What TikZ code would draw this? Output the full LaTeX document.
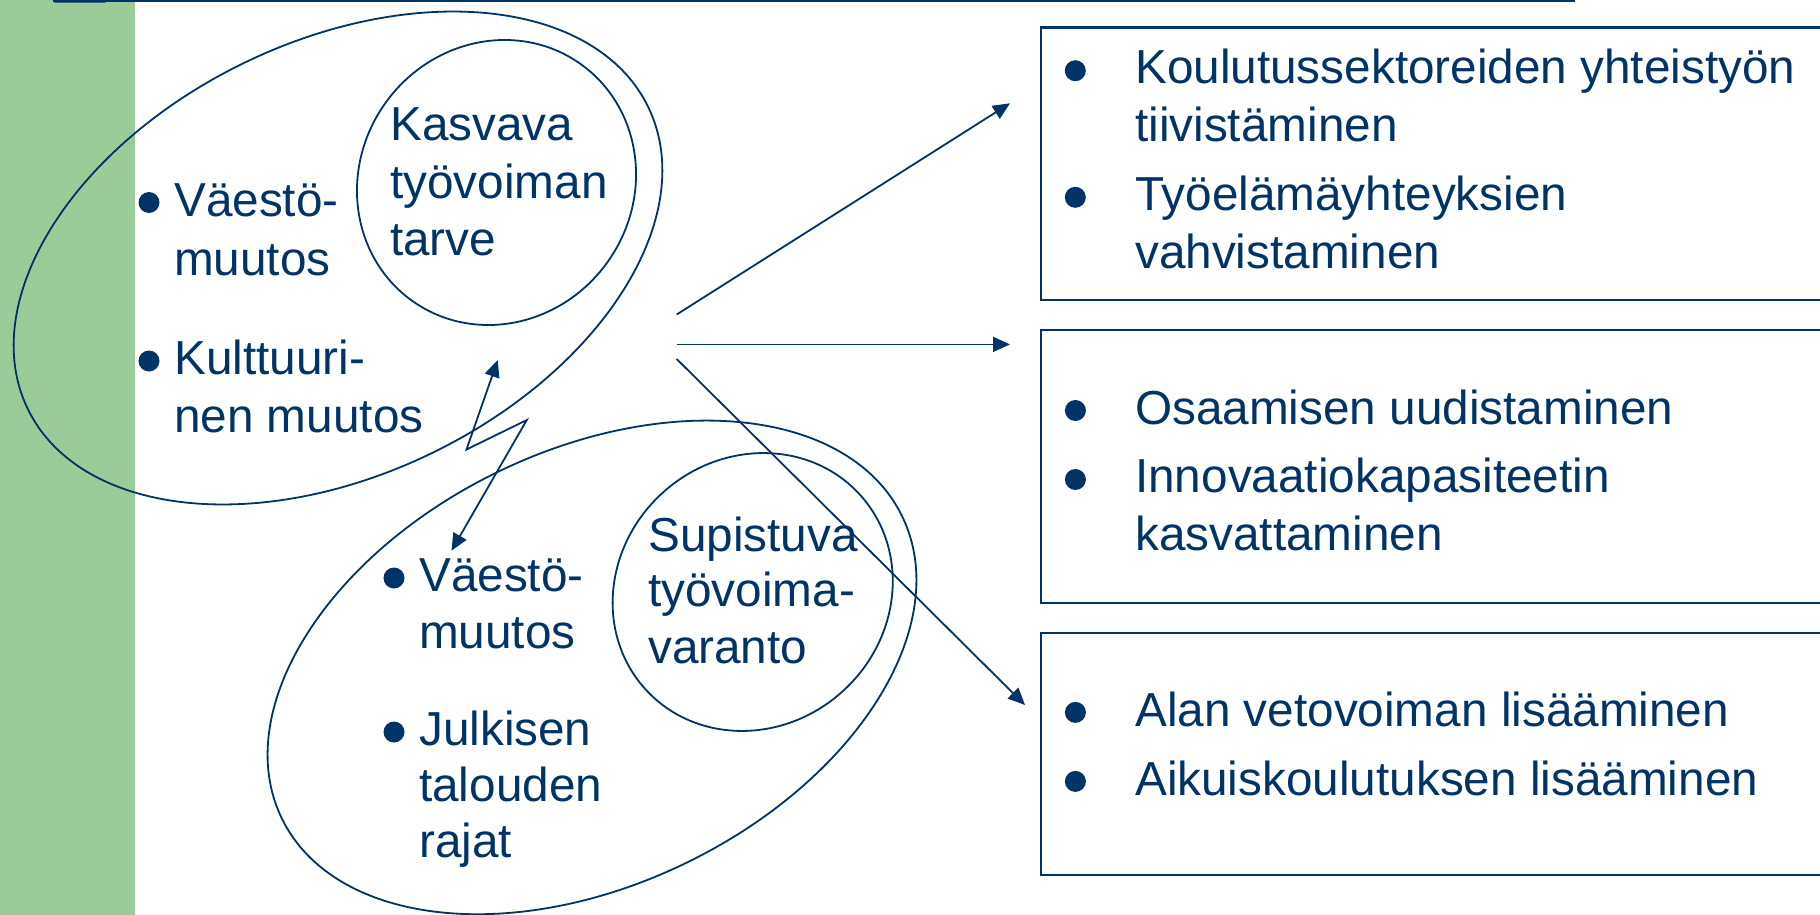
\documentclass[tikz,border=0pt]{standalone}
\usepackage{fontspec}
\setmainfont{Liberation Sans}
\usetikzlibrary{shapes.geometric,arrows.meta}
\definecolor{navy}{RGB}{0,51,102}
\definecolor{leaf}{RGB}{153,204,153}
\begin{document}
\begin{tikzpicture}[x=1pt,y=-1pt,
  txt/.style={anchor=base west, inner sep=0pt, text=navy, font=\fontsize{47.7}{57}\selectfont},
  bul/.style={circle, fill=navy, inner sep=0pt, minimum size=21pt},
  ring/.style={draw=navy, line width=1.8pt, ellipse, inner sep=0pt},
  panel/.style={draw=navy, line width=2.2pt, rectangle, anchor=north west, inner sep=0pt, minimum width=820pt},
  link/.style={draw=navy, line width=1.8pt},
  tip/.style={-{Triangle[length=17pt,width=15pt]}},
  tips/.style={{Triangle[length=17pt,width=15pt]}-{Triangle[length=17pt,width=15pt]}}
]
\clip (0,0) rectangle (1820,915);
\fill[white] (0,0) rectangle (1820,915);
\fill[leaf] (0,0) rectangle (135,915);
\draw[navy, line width=1.6pt] (53,0.8) -- (1575,0.8);
\fill[navy, rounded corners=2pt] (53,-4) rectangle (107,2.6);

% ellipses
\node[ring, minimum width=690pt, minimum height=433pt, rotate=26] (grow) at (338,258) {};
\node[ring, minimum width=690pt, minimum height=434pt, rotate=26] (shrink) at (592,667.4) {};
\node[ring, minimum width=290.6pt, minimum height=273.2pt, rotate=55] (need) at (496.5,182.5) {};
\node[ring, minimum width=289.6pt, minimum height=268pt, rotate=42] (supply) at (752.7,592) {};

% top-left texts
\node[bul] (b1) at (149,202.5) {};
\node[txt] (t1a) at (174,216.7) {Väestö-};
\node[txt] (t1b) at (174,275) {muutos};
\node[bul] (b2) at (149,361) {};
\node[txt] (t2a) at (174,374) {Kulttuuri-};
\node[txt] (t2b) at (174,432) {nen muutos};
\node[txt] (k1) at (390,140) {Kasvava};
\node[txt] (k2) at (390,198) {työvoiman};
\node[txt] (k3) at (390,255) {tarve};

% bottom texts
\node[bul] (b3) at (394,578) {};
\node[txt] (t3a) at (419,591.7) {Väestö-};
\node[txt] (t3b) at (419,648.3) {muutos};
\node[bul] (b4) at (394,732) {};
\node[txt] (t4a) at (419,745) {Julkisen};
\node[txt] (t4b) at (419,801.7) {talouden};
\node[txt] (t4c) at (419,857.3) {rajat};
\node[txt] (s1) at (648,551.7) {Supistuva};
\node[txt] (s2) at (648,606.7) {työvoima-};
\node[txt] (s3) at (648,663.3) {varanto};

% boxes
\node[panel, minimum height=272pt] (box1) at (1040,26.5) {};
\node[panel, minimum height=272.5pt] (box2) at (1040,329) {};
\node[panel, minimum height=241.5pt] (box3) at (1040,632) {};

\node[bul] (c1) at (1075.3,70.7) {};
\node[txt] (r1a) at (1135,83.3) {Koulutussektoreiden yhteistyön};
\node[txt] (r1b) at (1135,141.7) {tiivistäminen};
\node[bul] (c2) at (1075.3,197.3) {};
\node[txt] (r2a) at (1135,210.7) {Työelämäyhteyksien};
\node[txt] (r2b) at (1135,268.3) {vahvistaminen};

\node[bul] (c3) at (1075.4,410.5) {};
\node[txt] (r3a) at (1135,424.7) {Osaamisen uudistaminen};
\node[bul] (c4) at (1075.4,479.5) {};
\node[txt] (r4a) at (1135,492.9) {Innovaatiokapasiteetin};
\node[txt] (r4b) at (1135,550) {kasvattaminen};

\node[bul] (c5) at (1075.4,712.4) {};
\node[txt] (r5a) at (1135,726.5) {Alan vetovoiman lisääminen};
\node[bul] (c6) at (1075.4,781.4) {};
\node[txt] (r6a) at (1135,795.9) {Aikuiskoulutuksen lisääminen};

% arrows
\coordinate (a1) at (676.7,314.5);
\coordinate (e1) at (1010,103.3);
\coordinate (a2) at (676.7,344.4);
\coordinate (e2) at (1010,344.4);
\coordinate (a3) at (676.7,359);
\coordinate (e3) at (1025,705);
\draw[link, tip] (a1) -- (e1);
\draw[link, tip] (a2) -- (e2);
\draw[link, tip] (a3) -- (e3);

\coordinate (z1) at (497.7,360);
\coordinate (z2) at (466.5,449.5);
\coordinate (z3) at (526.8,420);
\coordinate (z4) at (451.5,550.7);
\draw[link, tips, line join=miter] (z1) -- (z2) -- (z3) -- (z4);
\end{tikzpicture}
\end{document}
